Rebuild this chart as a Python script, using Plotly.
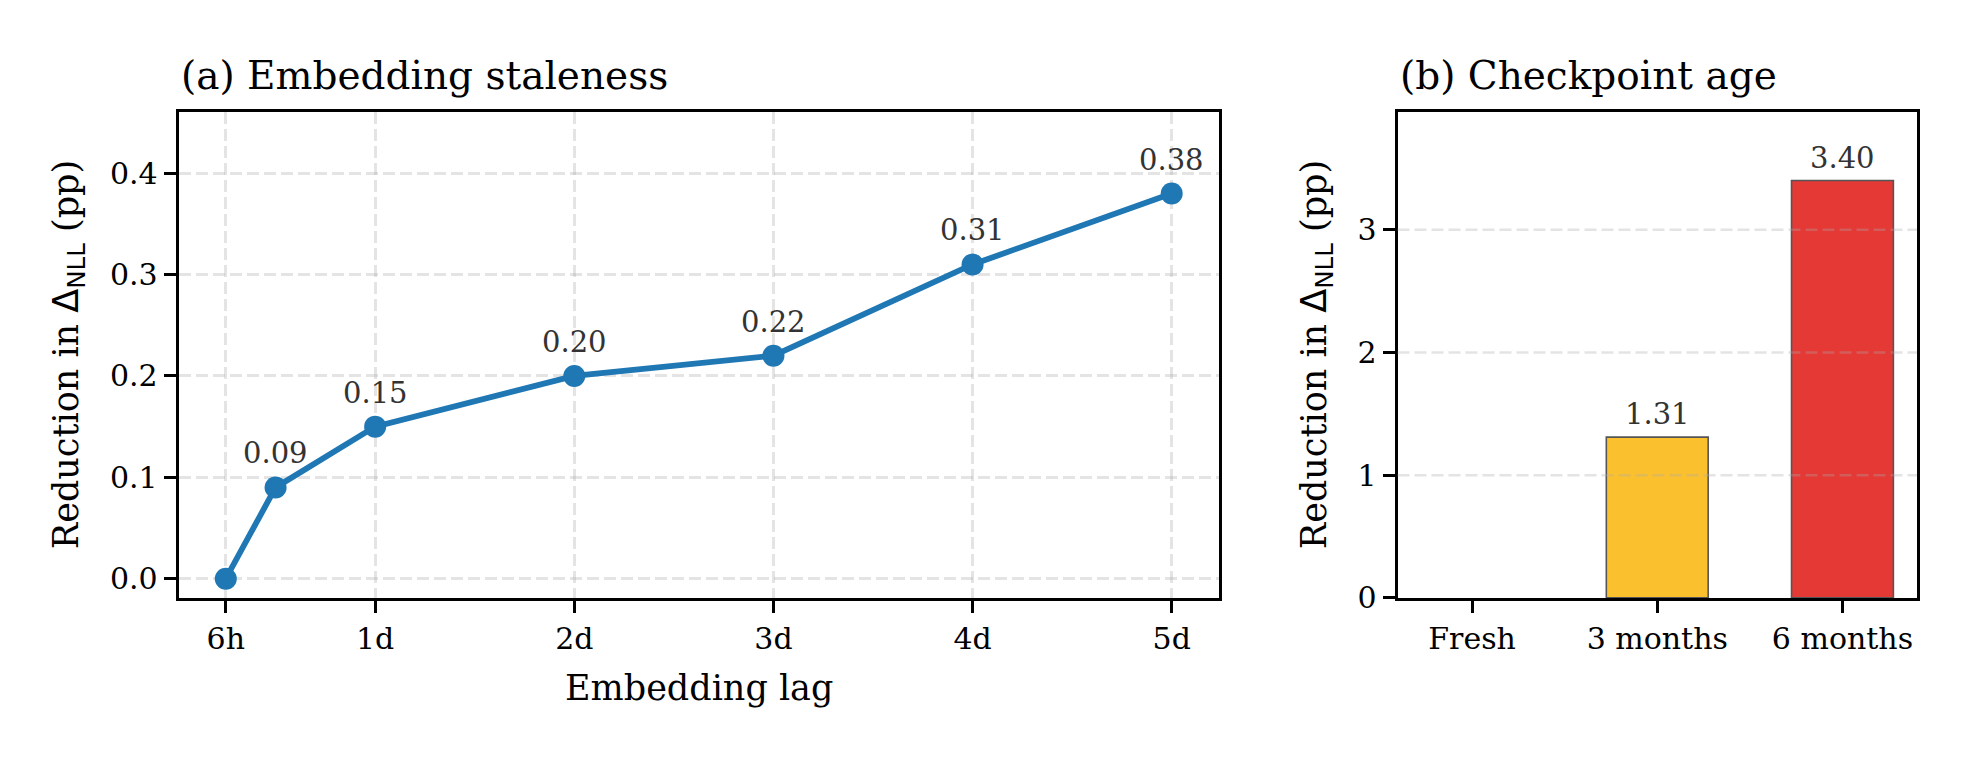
import plotly.graph_objects as go

# ---- data ----
lag_days = [0.25, 0.5, 1, 2, 3, 4, 5]
lag_reduction = [0.00, 0.09, 0.15, 0.20, 0.22, 0.31, 0.38]
lag_tick_vals = [0.25, 1, 2, 3, 4, 5]
lag_tick_text = ["6h", "1d", "2d", "3d", "4d", "5d"]

ckpt_categories = ["Fresh", "3 months", "6 months"]
ckpt_reduction = [0.00, 1.31, 3.40]
ckpt_colors = ["#43A047", "#FBC02D", "#E53935"]
ckpt_tick_vals = [0, 1, 2, 3]

W, H = 1976, 768
FONT = "DejaVu Serif"
TICK = 30
ANN = 29
LAB = 35
TTL = 39
GRID = "rgba(170,170,170,0.32)"


def Y(p):
    """target pixel row (from top) -> paper fraction, with empirical vertical correction"""
    return 1 - ((p + 3.0) / 0.987) / H


# panel geometry (target pixels)
ax1 = dict(l=178.5, r=1219, t=110.5, b=600.5)
ax2 = dict(l=1397.5, r=1917, t=110.5, b=600.5)


def xd(a):
    return [a["l"] / W, a["r"] / W]


def yd(a):
    return [Y(a["b"]), Y(a["t"])]


fig = go.Figure()

fig.add_trace(go.Scatter(
    x=lag_days, y=lag_reduction, mode="lines+markers",
    line=dict(color="#1f77b4", width=5.8),
    marker=dict(color="#1f77b4", size=22),
    xaxis="x", yaxis="y", showlegend=False, cliponaxis=False,
))

fig.add_trace(go.Bar(
    x=list(range(len(ckpt_categories))), y=ckpt_reduction, width=0.55,
    marker=dict(color=ckpt_colors,
                line=dict(color="#555555", width=[0 if v == 0 else 1.6 for v in ckpt_reduction])),
    xaxis="x2", yaxis="y2", showlegend=False,
))

axis_common = dict(
    showline=True, linecolor="black", linewidth=2.7, mirror=True,
    ticks="outside", ticklen=12, tickwidth=2.7, tickcolor="black",
    tickfont=dict(family=FONT, size=TICK, color="black"),
    zeroline=False,
)

fig.update_layout(
    width=W, height=H, autosize=False,
    margin=dict(l=0, r=0, t=0, b=0),
    paper_bgcolor="white", plot_bgcolor="white",
    font=dict(family=FONT, color="black"),
    xaxis=dict(domain=xd(ax1), range=[0.0125, 5.2375], tickvals=lag_tick_vals,
               ticktext=lag_tick_text, showgrid=True, gridcolor=GRID,
               griddash="12px,5px", gridwidth=2.5, anchor="y", **axis_common),
    yaxis=dict(domain=yd(ax1), range=[-0.019, 0.46], tickvals=[0, 0.1, 0.2, 0.3, 0.4],
               tickformat=".1f", showgrid=True, gridcolor=GRID,
               griddash="12px,5px", gridwidth=2.5, anchor="x", **axis_common),
    xaxis2=dict(domain=xd(ax2), range=[-0.4025, 2.4025],
                tickvals=list(range(len(ckpt_categories))), ticktext=ckpt_categories,
                showgrid=False, anchor="y2", **axis_common),
    yaxis2=dict(domain=yd(ax2), range=[0, 3.955], tickvals=ckpt_tick_vals,
                showgrid=False, anchor="x2", **axis_common),
)

# gridlines for bar panel drawn above bars (as in reference)
for v in ckpt_tick_vals[1:]:
    fig.add_shape(type="line", xref="x2 domain", yref="y2", x0=0, x1=1, y0=v, y1=v,
                  line=dict(color=GRID, width=2.5, dash="12px,5px"), layer="above")

annotations = []
# point labels
for x, y in zip(lag_days, lag_reduction):
    if y > 0:
        annotations.append(dict(x=x, y=y, xref="x", yref="y", text=f"{y:.2f}",
                                showarrow=False, yanchor="bottom", yshift=15,
                                font=dict(family=FONT, size=ANN, color="#333333")))
# bar labels
for i, y in enumerate(ckpt_reduction):
    if y > 0:
        annotations.append(dict(x=i, y=y, xref="x2", yref="y2", text=f"{y:.2f}",
                                showarrow=False, yanchor="bottom", yshift=4,
                                font=dict(family=FONT, size=ANN, color="#333333")))

# titles
annotations.append(dict(x=ax1["l"] / W, y=Y(ax1["t"]), xref="paper", yref="paper",
                        text="(a) Embedding staleness", showarrow=False, xanchor="left",
                        yanchor="bottom", yshift=12, font=dict(family=FONT, size=TTL)))
annotations.append(dict(x=ax2["l"] / W, y=Y(ax2["t"]), xref="paper", yref="paper",
                        text="(b) Checkpoint age", showarrow=False, xanchor="left",
                        yanchor="bottom", yshift=12, font=dict(family=FONT, size=TTL)))

ylab = "Reduction in <span style='font-family:DejaVu Sans'>Δ<sub>NLL</sub></span> (pp)"
cy = Y((ax1["t"] + ax1["b"]) / 2)
annotations.append(dict(x=68 / W, y=cy, xref="paper", yref="paper", text=ylab,
                        showarrow=False, textangle=-90, xanchor="center", yanchor="middle",
                        font=dict(family=FONT, size=LAB)))
annotations.append(dict(x=1316 / W, y=cy, xref="paper", yref="paper", text=ylab,
                        showarrow=False, textangle=-90, xanchor="center", yanchor="middle",
                        font=dict(family=FONT, size=LAB)))
annotations.append(dict(x=(ax1["l"] + ax1["r"]) / 2 / W, y=Y(714), xref="paper",
                        yref="paper", text="Embedding lag", showarrow=False,
                        xanchor="center", yanchor="bottom",
                        font=dict(family=FONT, size=LAB)))

fig.update_layout(annotations=annotations)
fig.write_html("out.html", config={"responsive": False})
